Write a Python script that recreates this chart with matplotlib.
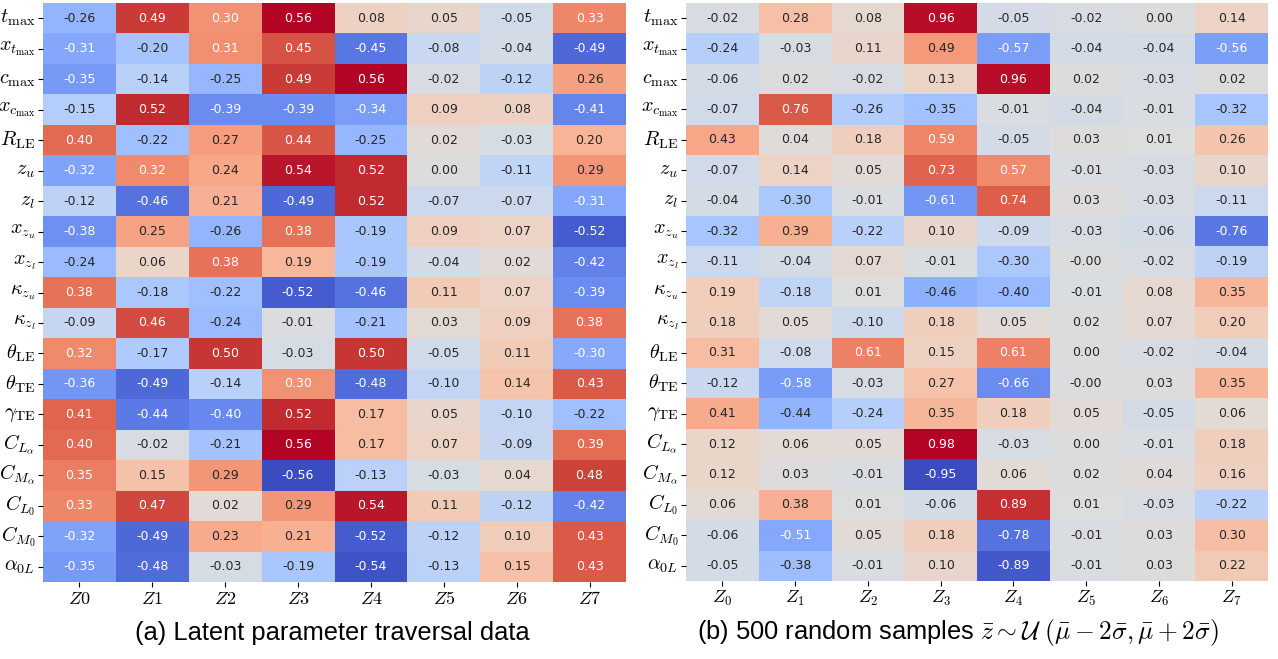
import numpy as np
import matplotlib
matplotlib.use("Agg")
import matplotlib.pyplot as plt
import seaborn as sns

plt.rcParams["mathtext.fontset"] = "cm"

row_labels = [
    r"$t_{\max}$", r"$x_{t_{\max}}$", r"$c_{\max}$", r"$x_{c_{\max}}$",
    r"$R_{\rm LE}$", r"$z_u$", r"$z_l$", r"$x_{z_u}$", r"$x_{z_l}$",
    r"$\kappa_{z_u}$", r"$\kappa_{z_l}$", r"$\theta_{\rm LE}$",
    r"$\theta_{\rm TE}$", r"$\gamma_{\rm TE}$", r"$C_{L_\alpha}$",
    r"$C_{M_\alpha}$", r"$C_{L_0}$", r"$C_{M_0}$", r"$\alpha_{0L}$",
]
cols_a = [r"$Z0$", r"$Z1$", r"$Z2$", r"$Z3$", r"$Z4$", r"$Z5$", r"$Z6$", r"$Z7$"]
cols_b = [r"$Z_0$", r"$Z_1$", r"$Z_2$", r"$Z_3$", r"$Z_4$", r"$Z_5$", r"$Z_6$", r"$Z_7$"]

# (a) correlations from latent traversal
corr_traversal = [
    [-0.26, 0.49, 0.30, 0.56, 0.08, 0.05, -0.05, 0.33],
    [-0.31, -0.20, 0.31, 0.45, -0.45, -0.08, -0.04, -0.49],
    [-0.35, -0.14, -0.25, 0.49, 0.56, -0.02, -0.12, 0.26],
    [-0.15, 0.52, -0.39, -0.39, -0.34, 0.09, 0.08, -0.41],
    [0.40, -0.22, 0.27, 0.44, -0.25, 0.02, -0.03, 0.20],
    [-0.32, 0.32, 0.24, 0.54, 0.52, 0.00, -0.11, 0.29],
    [-0.12, -0.46, 0.21, -0.49, 0.52, -0.07, -0.07, -0.31],
    [-0.38, 0.25, -0.26, 0.38, -0.19, 0.09, 0.07, -0.52],
    [-0.24, 0.06, 0.38, 0.19, -0.19, -0.04, 0.02, -0.42],
    [0.38, -0.18, -0.22, -0.52, -0.46, 0.11, 0.07, -0.39],
    [-0.09, 0.46, -0.24, -0.01, -0.21, 0.03, 0.09, 0.38],
    [0.32, -0.17, 0.50, -0.03, 0.50, -0.05, 0.11, -0.30],
    [-0.36, -0.49, -0.14, 0.30, -0.48, -0.10, 0.14, 0.43],
    [0.41, -0.44, -0.40, 0.52, 0.17, 0.05, -0.10, -0.22],
    [0.40, -0.02, -0.21, 0.56, 0.17, 0.07, -0.09, 0.39],
    [0.35, 0.15, 0.29, -0.56, -0.13, -0.03, 0.04, 0.48],
    [0.33, 0.47, 0.02, 0.29, 0.54, 0.11, -0.12, -0.42],
    [-0.32, -0.49, 0.23, 0.21, -0.52, -0.12, 0.10, 0.43],
    [-0.35, -0.48, -0.03, -0.19, -0.54, -0.13, 0.15, 0.43],
]

# (b) correlations from 500 uniform random samples
corr_random = [
    [-0.02, 0.28, 0.08, 0.96, -0.05, -0.02, 0.00, 0.14],
    [-0.24, -0.03, 0.11, 0.49, -0.57, -0.04, -0.04, -0.56],
    [-0.06, 0.02, -0.02, 0.13, 0.96, 0.02, -0.03, 0.02],
    [-0.07, 0.76, -0.26, -0.35, -0.01, -0.04, -0.01, -0.32],
    [0.43, 0.04, 0.18, 0.59, -0.05, 0.03, 0.01, 0.26],
    [-0.07, 0.14, 0.05, 0.73, 0.57, -0.01, -0.03, 0.10],
    [-0.04, -0.30, -0.01, -0.61, 0.74, 0.03, -0.03, -0.11],
    [-0.32, 0.39, -0.22, 0.10, -0.09, -0.03, -0.06, -0.76],
    [-0.11, -0.04, 0.07, -0.01, -0.30, -0.0, -0.02, -0.19],
    [0.19, -0.18, 0.01, -0.46, -0.40, -0.01, 0.08, 0.35],
    [0.18, 0.05, -0.10, 0.18, 0.05, 0.02, 0.07, 0.20],
    [0.31, -0.08, 0.61, 0.15, 0.61, 0.00, -0.02, -0.04],
    [-0.12, -0.58, -0.03, 0.27, -0.66, -0.0, 0.03, 0.35],
    [0.41, -0.44, -0.24, 0.35, 0.18, 0.05, -0.05, 0.06],
    [0.12, 0.06, 0.05, 0.98, -0.03, 0.00, -0.01, 0.18],
    [0.12, 0.03, -0.01, -0.95, 0.06, 0.02, 0.04, 0.16],
    [0.06, 0.38, 0.01, -0.06, 0.89, 0.01, -0.03, -0.22],
    [-0.06, -0.51, 0.05, 0.18, -0.78, -0.01, 0.03, 0.30],
    [-0.05, -0.38, -0.01, 0.10, -0.89, -0.01, 0.03, 0.22],
]

W, H = 1278, 659
fig = plt.figure(figsize=(W / 100, H / 100), dpi=100)

def px_axes(x0, y0, x1, y1):
    return fig.add_axes([x0 / W, 1 - y1 / H, (x1 - x0) / W, (y1 - y0) / H])

ax_a = px_axes(43, 3, 626, 582)
ax_b = px_axes(686, 3, 1268, 581)

for ax, data, cols in [(ax_a, corr_traversal, cols_a), (ax_b, corr_random, cols_b)]:
    sns.heatmap(np.array(data), ax=ax, cmap="coolwarm", annot=True, fmt=".2f",
                cbar=False, annot_kws={"fontsize": 9},
                xticklabels=cols, yticklabels=row_labels)
    ax.set_yticklabels(row_labels, rotation=0, fontsize=14.5)
    ax.set_xticklabels(cols, rotation=0, fontsize=13)
    ax.tick_params(axis="both", length=3.5, width=0.8, pad=2)

fig.text(332 / W, 1 - 633 / H, "(a) Latent parameter traversal data",
         ha="center", va="center", fontsize=18.4, family="Liberation Sans")
fig.text(958 / W, 1 - 633 / H,
         r"(b) 500 random samples $\bar{z} \sim \mathcal{U}\ (\bar{\mu}-2\bar{\sigma},\bar{\mu}+2\bar{\sigma})$",
         ha="center", va="center", fontsize=18.4, family="Liberation Sans")

fig.savefig("out.png", dpi=100)
